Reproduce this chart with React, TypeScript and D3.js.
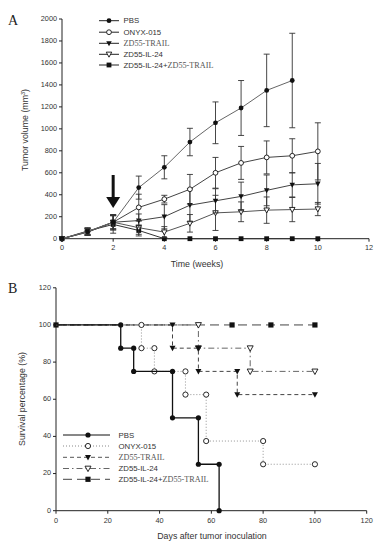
import React from "react";
import * as d3 from "d3";

// ---------- Panel A data ----------
const weeks = [0, 1, 2, 3, 4, 5, 6, 7, 8, 9, 10];
const pbsMean = [0, 65, 150, 465, 650, 880, 1055, 1190, 1350, 1440];
const pbsErr = [0, 30, 70, 105, 105, 125, 190, 250, 330, 430];
const onyxMean = [0, 65, 150, 285, 360, 450, 600, 690, 740, 755, 795];
const onyxErr = [0, 30, 70, 120, 35, 135, 140, 150, 150, 155, 260];
const trailMean = [0, 60, 150, 165, 200, 305, 345, 385, 440, 490, 500];
const trailErr = [0, 30, 60, 60, 110, 150, 110, 130, 140, 110, 185];
const il24Mean = [0, 60, 150, 100, 60, 140, 235, 245, 260, 265, 270];
const il24Err = [0, 30, 60, 60, 50, 80, 160, 90, 120, 110, 60];
const comboMean = [0, 70, 130, 75, 0, 0, 0, 0, 0, 0, 0];
const comboErr = [0, 30, 80, 50, 0, 0, 0, 0, 0, 0, 0];
const yTicksA = [0, 200, 400, 600, 800, 1000, 1200, 1400, 1600, 1800, 2000];
const xTicksA = [0, 2, 4, 6, 8, 10, 12];
const arrowWeek = 2;

// ---------- Panel B data ----------
const pbsDays = [0, 25, 30, 45, 55, 63];
const pbsSurv = [100, 87.5, 75, 50, 25, 0];
const onyxDays = [0, 33, 38, 50, 58, 80, 100];
const onyxSurv = [100, 87.5, 75, 62.5, 37.5, 25, 25];
const trailDays = [0, 45, 55, 70, 100];
const trailSurv = [100, 87.5, 75, 62.5, 62.5];
const il24Days = [0, 55, 75, 100];
const il24Surv = [100, 87.5, 75, 75];
const comboDays = [0, 68, 83, 100];
const comboSurv = [100, 100, 100, 100];
const yTicksB = [0, 20, 40, 60, 80, 100, 120];
const xTicksB = [0, 20, 40, 60, 80, 100, 120];

const SANS = "Liberation Sans, Arial, sans-serif";
const SERIF = "Liberation Serif, Times New Roman, serif";

type MarkerKind = "fcircle" | "ocircle" | "ftri" | "otri" | "fsquare";

function Marker({ kind, x, y, r = 2.6 }: { kind: MarkerKind; x: number; y: number; r?: number }) {
  const stroke = "#111";
  if (kind === "fcircle") return <circle cx={x} cy={y} r={r} fill="#111" />;
  if (kind === "ocircle") return <circle cx={x} cy={y} r={r} fill="#fff" stroke={stroke} strokeWidth={0.9} />;
  if (kind === "fsquare") return <rect x={x - r} y={y - r} width={2 * r} height={2 * r} fill="#111" />;
  const pts = `${x - r * 1.15},${y - r * 0.9} ${x + r * 1.15},${y - r * 0.9} ${x},${y + r * 1.2}`;
  if (kind === "ftri") return <polygon points={pts} fill="#111" />;
  return <polygon points={pts} fill="#fff" stroke={stroke} strokeWidth={0.9} />;
}

function LegendLabel({ name, x, y }: { name: string; x: number; y: number }) {
  const fill = "#333";
  if (name === "ZD55-TRAIL")
    return (
      <text x={x} y={y} fontFamily={SERIF} fontSize={8.2} fill="#555" dominantBaseline="middle">ZD55-TRAIL</text>
    );
  if (name === "combo")
    return (
      <text x={x} y={y} fontSize={7.8} fill={fill} dominantBaseline="middle">
        <tspan fontFamily={SANS}>ZD55-IL-24+</tspan>
        <tspan fontFamily={SERIF} fill="#555" fontSize={8.2}>ZD55-TRAIL</tspan>
      </text>
    );
  return (
    <text x={x} y={y} fontFamily={SANS} fontSize={7.8} fill={fill} dominantBaseline="middle">{name}</text>
  );
}

export default function App() {
  const xA = d3.scaleLinear().domain([0, 12]).range([62, 369]);
  const yA = d3.scaleLinear().domain([0, 2000]).range([238.7, 19]);
  const xB = d3.scaleLinear().domain([0, 120]).range([56, 366.7]);
  const yB = d3.scaleLinear().domain([0, 120]).range([510.7, 287.8]);

  const seriesA: { mean: number[]; err: number[]; kind: MarkerKind; color: string }[] = [
    { mean: comboMean, err: comboErr, kind: "fsquare", color: "#333" },
    { mean: il24Mean, err: il24Err, kind: "otri", color: "#555" },
    { mean: trailMean, err: trailErr, kind: "ftri", color: "#444" },
    { mean: onyxMean, err: onyxErr, kind: "ocircle", color: "#444" },
    { mean: pbsMean, err: pbsErr, kind: "fcircle", color: "#666" },
  ];

  const lineA = d3
    .line<number>()
    .x((_, i) => xA(weeks[i]))
    .y((d) => yA(d));

  const seriesB: { days: number[]; surv: number[]; kind: MarkerKind; dash: string; color: string; width: number }[] = [
    { days: comboDays, surv: comboSurv, kind: "fsquare", dash: "9,5", color: "#444", width: 1 },
    { days: il24Days, surv: il24Surv, kind: "otri", dash: "6,3,1.5,3", color: "#666", width: 1 },
    { days: trailDays, surv: trailSurv, kind: "ftri", dash: "4,3", color: "#444", width: 1 },
    { days: onyxDays, surv: onyxSurv, kind: "ocircle", dash: "1,2", color: "#888", width: 0.9 },
    { days: pbsDays, surv: pbsSurv, kind: "fcircle", dash: "", color: "#111", width: 1.3 },
  ];

  const stepPath = (days: number[], surv: number[]) => {
    const pts: [number, number][] = [[days[0], surv[0]]];
    for (let i = 1; i < days.length; i++) {
      pts.push([days[i], surv[i - 1]]);
      pts.push([days[i], surv[i]]);
    }
    return d3.line<[number, number]>().x((d) => xB(d[0])).y((d) => yB(d[1]))(pts) || "";
  };

  const legendA = [
    { name: "PBS", kind: "fcircle" as MarkerKind },
    { name: "ONYX-015", kind: "ocircle" as MarkerKind },
    { name: "ZD55-TRAIL", kind: "ftri" as MarkerKind },
    { name: "ZD55-IL-24", kind: "otri" as MarkerKind },
    { name: "combo", kind: "fsquare" as MarkerKind },
  ];
  const legendAy = [20.7, 32.2, 43.3, 54.3, 65];
  const legendBy = [435, 446, 457.3, 468.5, 479.3];
  const legendBstyle = [
    { dash: "", color: "#111" },
    { dash: "1,2", color: "#888" },
    { dash: "4,3", color: "#555" },
    { dash: "6,3,1.5,3", color: "#666" },
    { dash: "9,5", color: "#444" },
  ];

  const axisColor = "#222";
  const tickFont = 7.3;

  return (
    <svg
      width={382}
      height={553}
      style={{ position: "absolute", left: 0, top: 0, background: "#fff" }}
      fontFamily={SANS}
    >
      <rect x={0} y={0} width={382} height={553} fill="#fff" />
      {/* ---------------- Panel A ---------------- */}
      <text x={8} y={25} fontFamily={SERIF} fontSize={14} fill="#222">A</text>
      <line x1={xA(0)} x2={xA(12)} y1={yA(0)} y2={yA(0)} stroke={axisColor} strokeWidth={1} />
      <line x1={xA(0)} x2={xA(0)} y1={yA(0)} y2={yA(2000)} stroke={axisColor} strokeWidth={1} />
      {yTicksA.map((t) => (
        <g key={"ya" + t}>
          <line x1={xA(0) - 3} x2={xA(0)} y1={yA(t)} y2={yA(t)} stroke={axisColor} />
          <text x={xA(0) - 5} y={yA(t)} fontSize={tickFont} textAnchor="end" dominantBaseline="middle" fill="#333">{t}</text>
        </g>
      ))}
      {xTicksA.map((t) => (
        <g key={"xa" + t}>
          <line x1={xA(t)} x2={xA(t)} y1={yA(0)} y2={yA(0) + 3} stroke={axisColor} />
          <text x={xA(t)} y={yA(0) + 11} fontSize={tickFont} textAnchor="middle" fill="#333">{t}</text>
        </g>
      ))}
      <text x={197} y={267} fontSize={8.8} textAnchor="middle" fill="#333">Time (weeks)</text>
      <text transform={`translate(28,130) rotate(-90)`} fontSize={8.8} textAnchor="middle" fill="#333">
        Tumor volume (mm<tspan dy={-3} fontSize={5.5}>3</tspan><tspan dy={3}>)</tspan>
      </text>
      {seriesA.map((s, si) => (
        <g key={"sa" + si}>
          <path d={lineA(s.mean) || ""} fill="none" stroke={s.color} strokeWidth={1} />
          {s.mean.map((m, i) =>
            s.err[i] > 0 ? (
              <g key={"e" + i} stroke="#333" strokeWidth={0.9}>
                <line x1={xA(weeks[i])} x2={xA(weeks[i])} y1={yA(m - s.err[i] < 0 ? 0 : m - s.err[i])} y2={yA(m + s.err[i])} />
                <line x1={xA(weeks[i]) - 3} x2={xA(weeks[i]) + 3} y1={yA(m + s.err[i])} y2={yA(m + s.err[i])} />
                {m - s.err[i] > 0 && (
                  <line x1={xA(weeks[i]) - 3} x2={xA(weeks[i]) + 3} y1={yA(m - s.err[i])} y2={yA(m - s.err[i])} />
                )}
              </g>
            ) : null
          )}
          {s.mean.map((m, i) => (
            <Marker key={"m" + i} kind={s.kind} x={xA(weeks[i])} y={yA(m)} r={2.4} />
          ))}
        </g>
      ))}
      {/* arrow */}
      <line x1={xA(arrowWeek)} x2={xA(arrowWeek)} y1={175} y2={199} stroke="#111" strokeWidth={3} />
      <polygon
        points={`${xA(arrowWeek) - 7},197 ${xA(arrowWeek) + 7},197 ${xA(arrowWeek)},208`}
        fill="#111"
      />
      {legendA.map((l, i) => (
        <g key={"la" + i}>
          <line x1={99} x2={119} y1={legendAy[i]} y2={legendAy[i]} stroke="#222" strokeWidth={1} />
          <Marker kind={l.kind} x={109} y={legendAy[i]} r={2.4} />
          <LegendLabel name={l.name} x={123.5} y={legendAy[i] + 0.5} />
        </g>
      ))}

      {/* ---------------- Panel B ---------------- */}
      <text x={8} y={293} fontFamily={SERIF} fontSize={14} fill="#222">B</text>
      <line x1={xB(0)} x2={xB(120)} y1={yB(0)} y2={yB(0)} stroke={axisColor} strokeWidth={1} />
      <line x1={xB(0)} x2={xB(0)} y1={yB(0)} y2={yB(120)} stroke={axisColor} strokeWidth={1} />
      {yTicksB.map((t) => (
        <g key={"yb" + t}>
          <line x1={xB(0) - 3} x2={xB(0)} y1={yB(t)} y2={yB(t)} stroke={axisColor} />
          <text x={xB(0) - 5} y={yB(t)} fontSize={tickFont} textAnchor="end" dominantBaseline="middle" fill="#333">{t}</text>
        </g>
      ))}
      {xTicksB.map((t) => (
        <g key={"xb" + t}>
          <line x1={xB(t)} x2={xB(t)} y1={yB(0)} y2={yB(0) + 3} stroke={axisColor} />
          <text x={xB(t)} y={yB(0) + 12} fontSize={tickFont} textAnchor="middle" fill="#333">{t}</text>
        </g>
      ))}
      <text x={212} y={539} fontSize={8.8} textAnchor="middle" fill="#333">Days after tumor inoculation</text>
      <text transform={`translate(25,399) rotate(-90)`} fontSize={8.8} textAnchor="middle" fill="#333">
        Survival percentage (%)
      </text>
      {seriesB.map((s, si) => (
        <g key={"sb" + si}>
          <path d={stepPath(s.days, s.surv)} fill="none" stroke={s.color} strokeWidth={s.width} strokeDasharray={s.dash} />
          {s.days.map((d, i) => {
            if (i === 0) return s.kind === "fsquare" ? <Marker key="m0" kind={s.kind} x={xB(d)} y={yB(s.surv[0])} /> : null;
            const prev = s.surv[i - 1];
            const cur = s.surv[i];
            return (
              <g key={"m" + i}>
                <Marker kind={s.kind} x={xB(d)} y={yB(prev)} />
                {cur !== prev && <Marker kind={s.kind} x={xB(d)} y={yB(cur)} />}
              </g>
            );
          })}
        </g>
      ))}
      {legendA.map((l, i) => (
        <g key={"lb" + i}>
          <line x1={63} x2={110} y1={legendBy[i]} y2={legendBy[i]} stroke={legendBstyle[i].color} strokeWidth={1} strokeDasharray={legendBstyle[i].dash} />
          <Marker kind={l.kind} x={88} y={legendBy[i]} />
          <LegendLabel name={l.name} x={118.5} y={legendBy[i] + 0.5} />
        </g>
      ))}
    </svg>
  );
}
